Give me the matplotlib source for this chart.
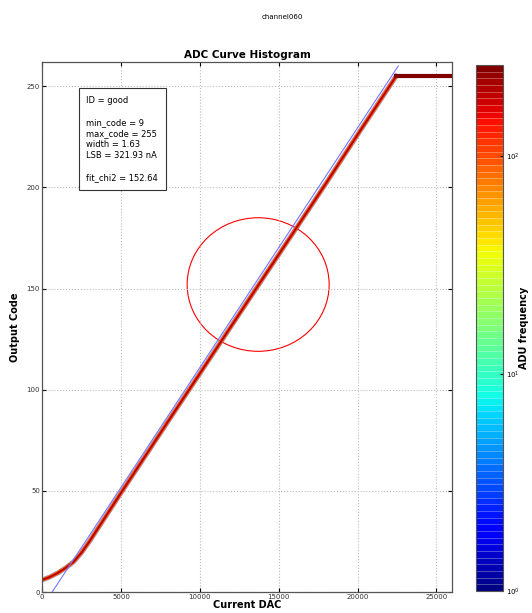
import matplotlib
matplotlib.use("Agg")
import matplotlib.pyplot as plt
import numpy as np
from matplotlib.colors import LogNorm
from matplotlib.cm import ScalarMappable
from matplotlib.patches import Ellipse

# transfer curve (Current DAC -> Output Code)
dac = [0, 500, 1000, 1500, 2000, 2500, 3000, 3500, 4000, 5000, 8000,
       10000, 13740, 16000, 18000, 20000, 22450]
code = [6, 7.5, 9.5, 12, 15, 19.5, 25, 31, 37, 49, 84.5,
        108, 152, 178.5, 202, 226, 255]
# saturated part
sat_dac = [22450, 26000]
sat_code = [255, 255]

# linear fit
fit_dac = [636, 22580]
fit_code = [0, 260]

# histogram frequency bands (outer -> core) and their widths
band_freq = [3, 90, 200]
band_width = [3.6, 2.8, 1.4]
band_alpha = [0.45, 1.0, 1.0]
sat_freq = 263

info = ["ID = good", "", "min_code = 9", "max_code = 255", "width = 1.63",
        "LSB = 321.93 nA", "", "fit_chi2 = 152.64"]

cmap = plt.get_cmap("jet")
norm = LogNorm(vmin=1, vmax=263)

fig = plt.figure(figsize=(5.32, 6.13), dpi=100)
ax = fig.add_axes([0.079, 0.034, 0.771, 0.865])
cax = fig.add_axes([0.895, 0.036, 0.05, 0.858])

for f, w, a in zip(band_freq, band_width, band_alpha):
    ax.plot(dac, code, color=cmap(norm(f)), lw=w, alpha=a,
            solid_joinstyle="round")
ax.plot(sat_dac, sat_code, color=cmap(norm(sat_freq)), lw=3.0)
ax.plot(fit_dac, fit_code, color="#7777ff", lw=0.8)

ax.add_patch(Ellipse((13700, 152), 9000, 66, fill=False, ec="red", lw=0.8))

ax.set_xlim(0, 26000)
ax.set_ylim(0, 262)
ax.set_xticks(np.arange(0, 26000, 5000))
ax.set_yticks(np.arange(0, 260, 50))
ax.grid(True, linestyle=":", color="#bbbbbb", lw=0.8)
ax.tick_params(direction="in", labelsize=5, length=3, top=True, right=True,
               labelcolor="#333333", pad=1.5)
for s in ax.spines.values():
    s.set_color("#555555")
    s.set_linewidth(0.9)

ax.set_title("ADC Curve Histogram", fontsize=7.5, fontweight="bold", pad=3)
ax.set_xlabel("Current DAC", fontsize=7, fontweight="bold", labelpad=0)
ax.set_ylabel("Output Code", fontsize=7, fontweight="bold", labelpad=5)
fig.text(0.53, 0.972, "channel060", fontsize=5, ha="center", va="center")

ax.text(0.108, 0.936, "\n".join(info), transform=ax.transAxes, fontsize=6,
        va="top", ha="left", linespacing=1.3,
        bbox=dict(boxstyle="square,pad=0.9", fc="white", ec="#333333", lw=0.8))

sm = ScalarMappable(norm=norm, cmap=cmap)
bounds = np.logspace(0, np.log10(263), 80)
cb = fig.colorbar(sm, cax=cax, boundaries=bounds, drawedges=True)
cb.dividers.set_color("white")
cb.dividers.set_alpha(0.35)
cb.dividers.set_linewidth(0.6)
cb.outline.set_edgecolor("#555555")
cb.set_ticks([1, 10, 100], labels=[r"$10^0$", r"$10^1$", r"$10^2$"])
cax.minorticks_off()
cax.tick_params(labelsize=5, length=2, direction="in", pad=2)
cb.set_label("ADU frequency", fontsize=7, fontweight="bold", labelpad=0)

plt.savefig("out.png", dpi=100)
plt.close()
